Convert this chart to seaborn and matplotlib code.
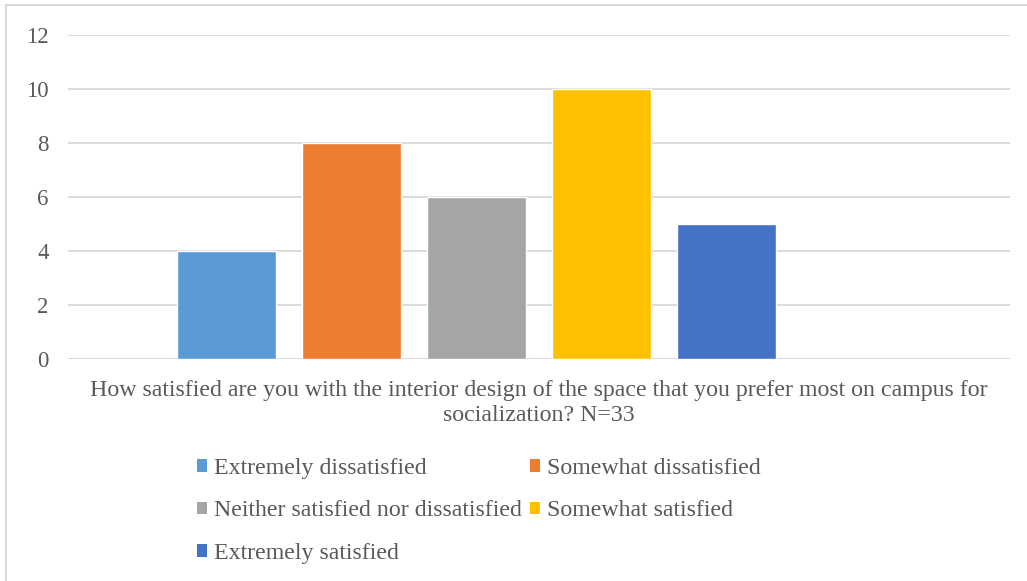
import matplotlib
matplotlib.use("Agg")
import matplotlib.pyplot as plt
import seaborn as sns
import pandas as pd
from matplotlib.patches import Patch, Rectangle

categories = ["Extremely dissatisfied", "Somewhat dissatisfied",
              "Neither satisfied nor dissatisfied", "Somewhat satisfied",
              "Extremely satisfied"]
values = [4, 8, 6, 10, 5]
colors = ["#5B9BD5", "#ED7D31", "#A5A5A5", "#FFC000", "#4472C4"]
yticks = [0, 2, 4, 6, 8, 10, 12]
xlabel = ("How satisfied are you with the interior design of the space that you prefer most on campus for\n"
          "socialization? N=33")

sns.set_theme(style="white")
plt.rcParams["font.family"] = ["Liberation Serif", "DejaVu Serif"]
txt = "#595959"

fig = plt.figure(figsize=(10.27, 5.81), dpi=100)
ax = fig.add_axes([68/1027, 1-359/581, (1010-68)/1027, (359-35)/581])

df = pd.DataFrame({"cat": categories, "val": values})
sns.barplot(data=df, x="cat", y="val", hue="cat", order=categories,
            hue_order=categories, palette=colors, width=0.792,
            dodge=False, legend=False, ax=ax, saturation=1)

ax.set_xlim(-1.268, 6.268)
ax.set_ylim(0, 12)
ax.set_yticks(yticks)
ax.set_yticklabels([str(v) for v in yticks], fontsize=16.5, color=txt)
ax.yaxis.grid(True, color="#D9D9D9", linewidth=1.3)
ax.set_axisbelow(True)
ax.tick_params(axis="y", length=0, pad=14)
ax.set_xticks([])
ax.set_xlabel("")
ax.set_ylabel("")
for s in ax.spines.values():
    s.set_visible(False)
ax.axhline(0, color="#D9D9D9", linewidth=1.3, zorder=0.5)

fig.text(539/1027, 1-403/581, xlabel, ha="center", va="center",
         fontsize=17.2, color=txt, linespacing=1.25)

# row-major legend order for 2 columns
order = [0, 2, 4, 1, 3]
handles = [Patch(facecolor=colors[i], edgecolor="none") for i in order]
labels = [categories[i] for i in order]
leg = fig.legend(handles, labels, loc="upper left",
                 bbox_to_anchor=(197/1027, 1-458/581), ncol=2, frameon=False,
                 fontsize=17.2, labelcolor=txt, handlelength=0.42, handleheight=0.42,
                 handletextpad=0.3, columnspacing=0.33, labelspacing=0.9,
                 borderaxespad=0, borderpad=0)

fig.patches.append(Rectangle((6/1027, -0.1), 1.2, 1 - 5/581 + 0.1,
                             transform=fig.transFigure, fill=False,
                             edgecolor="#D9D9D9", linewidth=1.5))

fig.savefig("out.png", dpi=100)
